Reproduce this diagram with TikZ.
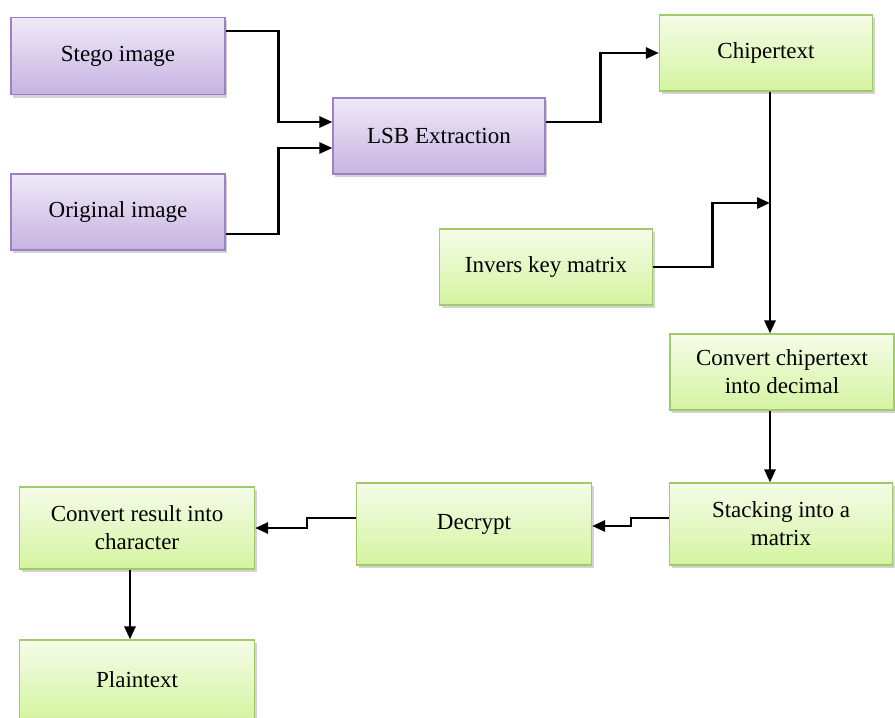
\documentclass[tikz,border=0pt]{standalone}
\usepackage{fontspec}
\setmainfont{Liberation Serif}
\usetikzlibrary{positioning,arrows.meta,shadows}
\tikzset{
  font=\fontsize{23}{28}\selectfont
}

\begin{document}
\begin{tikzpicture}[x=1pt,y=1pt,
  box/.style={rectangle,draw,line width=1.2pt,align=center,inner sep=0pt,
    drop shadow={opacity=0.35,shadow xshift=2pt,shadow yshift=-3pt}},
  purp/.style={box,draw=boxPurpleLine,top color=boxPurpleTop,bottom color=boxPurpleBot},
  grn/.style={box,draw=boxGreenLine,top color=boxGreenTop,bottom color=boxGreenBot},
  arr/.style={-{Triangle[length=13pt,width=11pt]},line width=2.8pt}]
\definecolor{boxPurpleTop}{HTML}{EFE9F8}
\definecolor{boxPurpleBot}{HTML}{C7B3E1}
\definecolor{boxPurpleLine}{HTML}{9C82C4}
\definecolor{boxGreenTop}{HTML}{F5FCE8}
\definecolor{boxGreenBot}{HTML}{D4F4A0}
\definecolor{boxGreenLine}{HTML}{A2CA68}
\useasboundingbox (0,0) rectangle (895,-718);
\node[purp,minimum width=214pt,minimum height=77pt] (stego) at (118,-56) {Stego image};
\node[purp,minimum width=214pt,minimum height=76pt] (orig) at (118,-212) {Original image};
\node[purp,minimum width=212pt,minimum height=76pt] (lsb) at (439,-136) {LSB Extraction};
\node[grn,minimum width=213pt,minimum height=76pt] (chiper) at (766,-53) {Chipertext};
\node[grn,minimum width=213pt,minimum height=76pt] (invkey) at (546,-267) {Invers key matrix};
\node[grn,minimum width=224pt,minimum height=76pt] (todec) at (782,-372) {Convert chipertext\\into decimal};
\node[grn,minimum width=223pt,minimum height=82pt] (stack) at (781,-524) {Stacking into a\\matrix};
\node[grn,minimum width=235pt,minimum height=82pt] (decrypt) at (474,-524) {Decrypt};
\node[grn,minimum width=235pt,minimum height=82pt] (tochar) at (137,-528) {Convert result into\\character};
\node[grn,minimum width=235pt,minimum height=80pt] (plain) at (137,-680) {Plaintext};
\coordinate (join) at (770,-203);
\draw[arr] ([yshift=25pt]stego.east) -- ++(53,0) |- ([yshift=14pt]lsb.west);
\draw[arr] ([yshift=-22pt]orig.east) -- ++(53,0) |- ([yshift=-12pt]lsb.west);
\draw[arr] ([yshift=14pt]lsb.east) -- ++(55,0) |- (chiper.west);
\draw[arr] (chiper.south -| join) -- (todec.north -| join);
\draw[arr] (invkey.east) -- ++(59,0) |- (join);
\draw[arr] (todec.south -| join) -- (stack.north -| join);
\draw[arr] ([yshift=6pt]stack.west) -- ++(-38,0) |- ([yshift=-2pt]decrypt.east);
\draw[arr] ([yshift=6pt]decrypt.west) -- ++(-49,0) |- (tochar.east);
\draw[arr] ([xshift=-7pt]tochar.south) -- ([xshift=-7pt]plain.north);
\end{tikzpicture}
\end{document}
